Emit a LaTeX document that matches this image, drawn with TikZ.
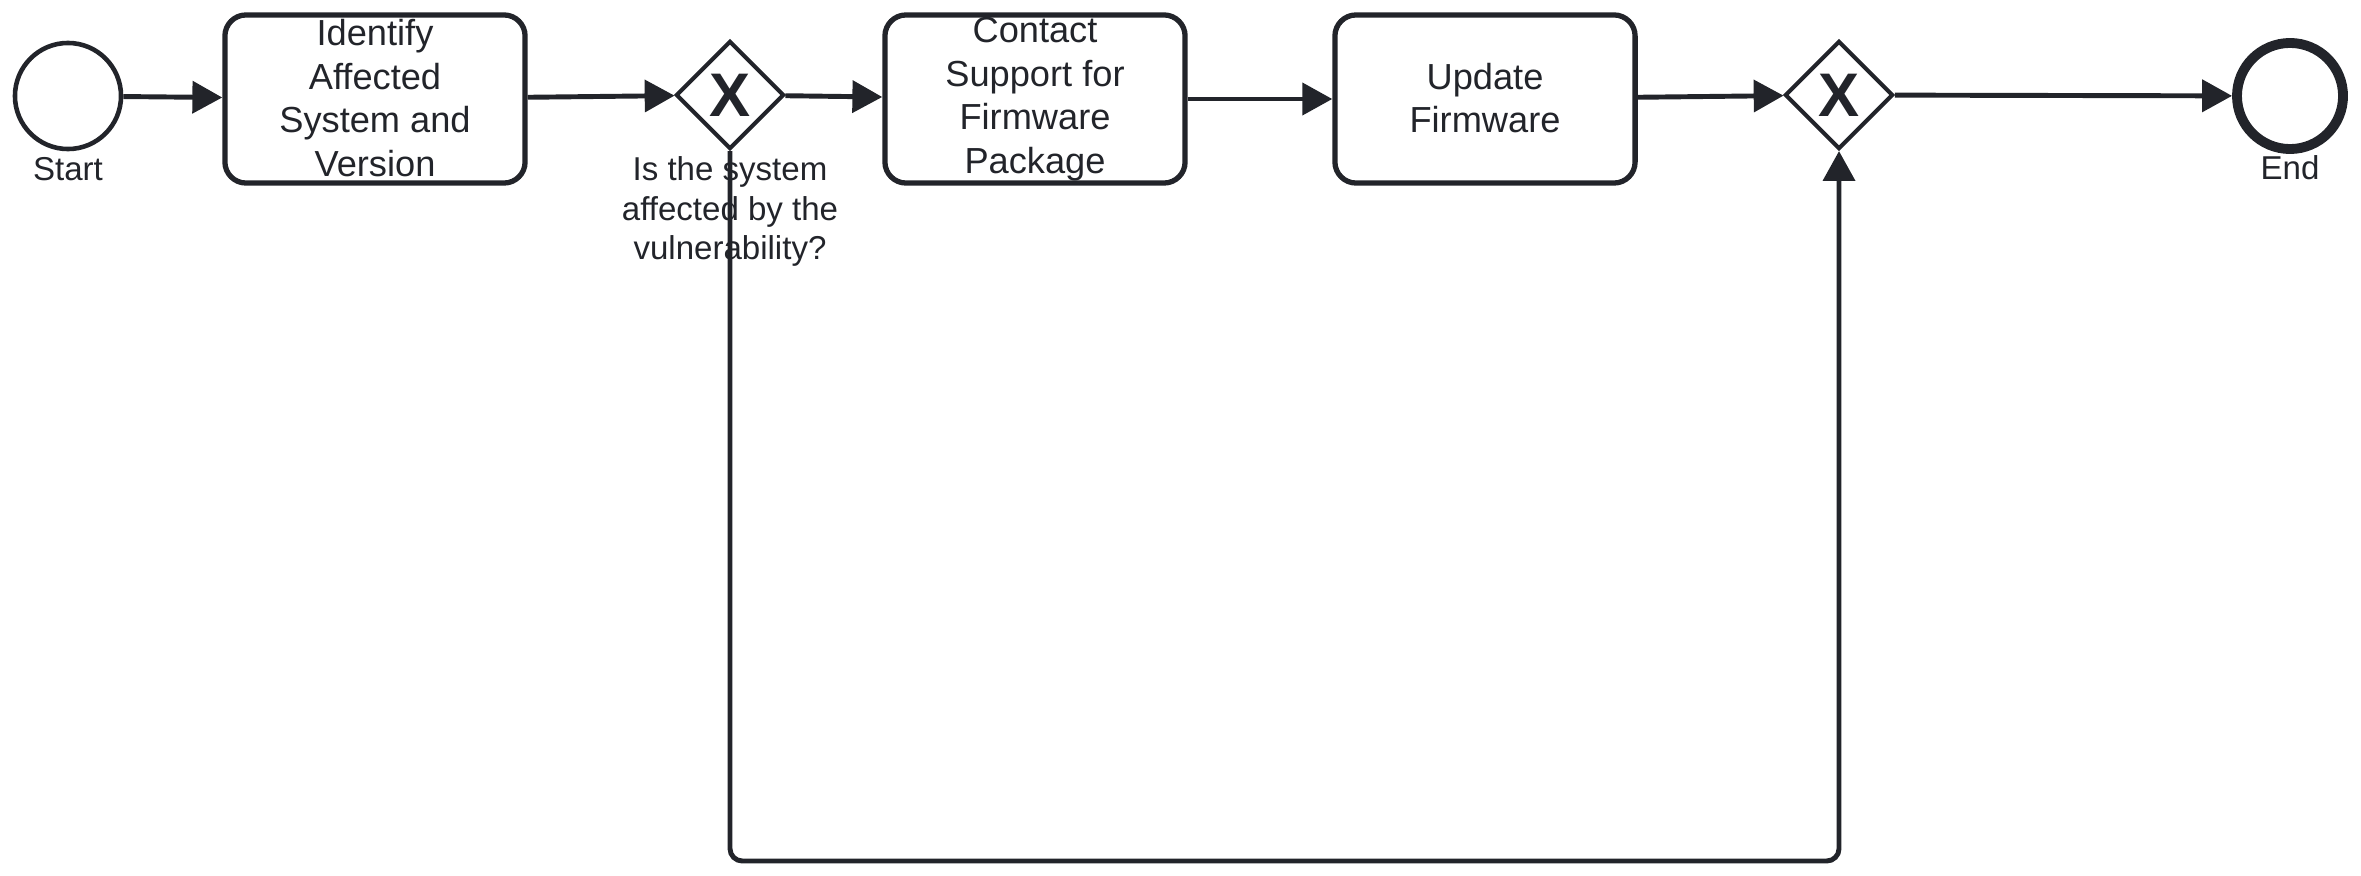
\documentclass[tikz,border=0pt]{standalone}
\usepackage{fontspec}
\setmainfont{Liberation Sans}
\usepackage{xcolor}
\usetikzlibrary{positioning, arrows.meta, shapes.geometric}
\definecolor{bpmnline}{HTML}{22242A}

\begin{document}
\begin{tikzpicture}[x=0.01cm, y=-0.01cm,
  evt/.style={circle, draw=bpmnline, line width=1.3pt, minimum size=1.06cm, inner sep=0pt},
  task/.style={draw=bpmnline, rounded corners=6pt, line width=1.5pt, minimum width=3.0cm, minimum height=1.68cm, inner ysep=-1pt, align=center, text=bpmnline, font=\fontsize{10.3}{12.35}\selectfont,
    execute at begin node={\rule{0pt}{11.6pt}}, execute at end node={\rule[-0.7pt]{0pt}{0pt}}},
  gate/.style={diamond, aspect=1, draw=bpmnline, line width=1.15pt, minimum size=1.08cm, inner sep=0pt, text=bpmnline, font=\fontsize{17.5}{17.5}\selectfont\bfseries},
  lbl/.style={align=center, inner sep=0pt, text=bpmnline, font=\fontsize{9.4}{11.3}\selectfont},
  flow/.style={draw=bpmnline, line width=1.4pt, -{Triangle[length=8.5pt,width=9pt]}}
]

\useasboundingbox (0,0) rectangle (2361,876);

% Evento inicial
\node[evt] (S) at (68,96) {};
\node[lbl, below=1.5pt of S] (Slbl) {Start};

% Tarefas
\node[task] (T1) at (375,99) {Identify\\Affected\\System and\\Version};
\node[task] (T2) at (1035,99) {Contact\\Support for\\Firmware\\Package};
\node[task] (T3) at (1485,99) {Update\\Firmware};

% Gateways
\node[gate] (G1) at (730,95) {X};
\node[lbl, below=1.3pt of G1] (G1lbl) {Is the system\\affected by the\\vulnerability?};
\node[gate] (G2) at (1839,95) {X};

% Evento final
\node[evt, line width=2.8pt] (E) at (2290,96) {};
\node[lbl, below=0.3pt of E] (Elbl) {End};

% Fluxos
\draw[flow] (S) -- (T1);
\draw[flow] (T1) -- (G1);
\draw[flow] (G1) -- (T2);
\draw[flow] (T2) -- (T3);
\draw[flow] (T3) -- (G2);
\draw[flow] (G2) -- (E);

% Caminho de baixo (sistema nao afetado)
\coordinate (B1) at (730,861);
\coordinate (B2) at (1839,861);
\draw[flow, rounded corners=3.5pt] (G1.south) -- (B1) -- (B2) -- (G2.south);

\end{tikzpicture}
\end{document}
